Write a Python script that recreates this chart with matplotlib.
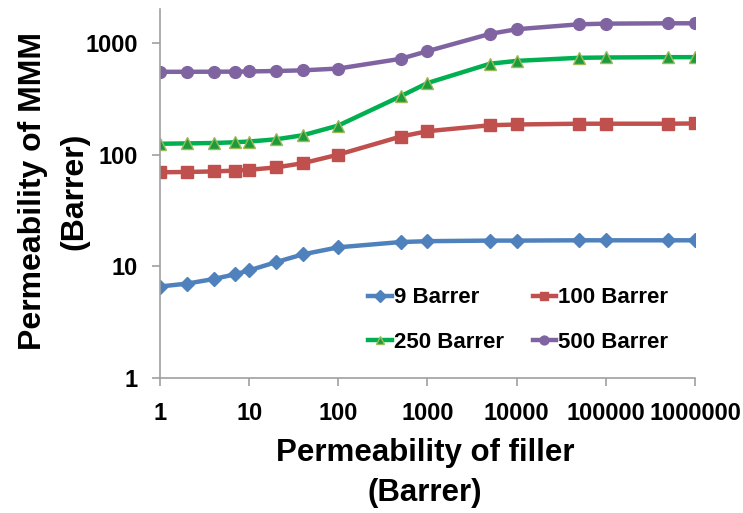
import matplotlib
matplotlib.use("Agg")
import matplotlib.pyplot as plt

plt.rcParams['font.family'] = ['Liberation Sans', 'DejaVu Sans']
plt.rcParams['font.weight'] = 'bold'

# permeability of filler (Barrer)
filler = [1, 2, 4, 7, 10, 20, 40, 100, 500, 1000, 5000, 10000, 50000, 100000, 500000, 1000000]

# permeability of MMM (Barrer), one list per polymer
p9 = [6.6, 7.0, 7.7, 8.5, 9.2, 10.9, 12.8, 14.8, 16.5, 16.8, 17.0, 17.0, 17.1, 17.1, 17.1, 17.1]
p100 = [69.5, 69.9, 70.7, 71.9, 73.1, 76.8, 83.7, 100, 145, 162, 183, 186, 189, 189, 189, 190]
p250 = [125, 126, 127, 129, 131, 137, 149, 182, 333, 437, 650, 690, 735, 740, 745, 745]
p500 = [551, 551, 552, 553, 555, 560, 568, 589, 720, 843, 1203, 1324, 1466, 1486, 1497, 1497]

labels = ['9 Barrer', '100 Barrer', '250 Barrer', '500 Barrer']
xticks = [1, 10, 100, 1000, 10000, 100000, 1000000]
yticks = [1, 10, 100, 1000]

fig = plt.figure(figsize=(7.43, 5.13), dpi=100)
ax = fig.add_axes([0.2153, 0.263, 0.7201, 0.719])

lw = 3.2
l9, = ax.plot(filler, p9, color='#4F81BD', lw=lw, marker='D', ms=7.5, label=labels[0])
l100, = ax.plot(filler, p100, color='#C0504D', lw=lw, marker='s', ms=8.5, label=labels[1])
l250, = ax.plot(filler, p250, color='#00B050', lw=lw, marker='^', ms=8.5,
                mfc='#1E9A3C', mec='#9BBB59', mew=1.0, label=labels[2])
l500, = ax.plot(filler, p500, color='#8064A2', lw=lw, marker='o', ms=8.5, label=labels[3])

ax.set_xscale('log')
ax.set_yscale('log')
ax.set_xlim(1, 1000000)
ax.set_ylim(1, 2000)
ax.set_xticks(xticks)
ax.set_xticklabels([str(v) for v in xticks])
ax.set_yticks(yticks)
ax.set_yticklabels([str(v) for v in yticks])
ax.minorticks_off()

for s in ['top', 'right']:
    ax.spines[s].set_visible(False)
for s in ['left', 'bottom']:
    ax.spines[s].set_color('#A0A0A0')
    ax.spines[s].set_linewidth(1.2)
ax.tick_params(axis='both', which='major', length=6, width=1.2, color='#A0A0A0',
               labelsize=17)
ax.tick_params(axis='x', pad=11)
ax.tick_params(axis='y', pad=10)
for t in ax.get_xticklabels() + ax.get_yticklabels():
    t.set_fontweight('bold')

# axis titles placed in figure coords (two lines each)
fig.text(0.572, 0.078, 'Permeability of filler\n(Barrer)', fontsize=22.5,
         fontweight='bold', ha='center', va='center', linespacing=1.45)
fig.text(0.072, 0.627, 'Permeability of MMM\n(Barrer)', fontsize=23,
         fontweight='bold', ha='center', va='center', rotation=90, linespacing=1.5)

# row-wise order like the original: 9, 100 / 250, 500
handles = [l9, l250, l100, l500]
leg = ax.legend(handles, [h.get_label() for h in handles], ncol=2, loc='upper left',
                bbox_to_anchor=(0.352, 0.30), frameon=False,
                fontsize=16, handlelength=1.05, handletextpad=0.1, columnspacing=1.3,
                labelspacing=1.05, markerscale=0.75)
for t in leg.get_texts():
    t.set_fontweight('bold')

fig.savefig('out.png', dpi=100)
